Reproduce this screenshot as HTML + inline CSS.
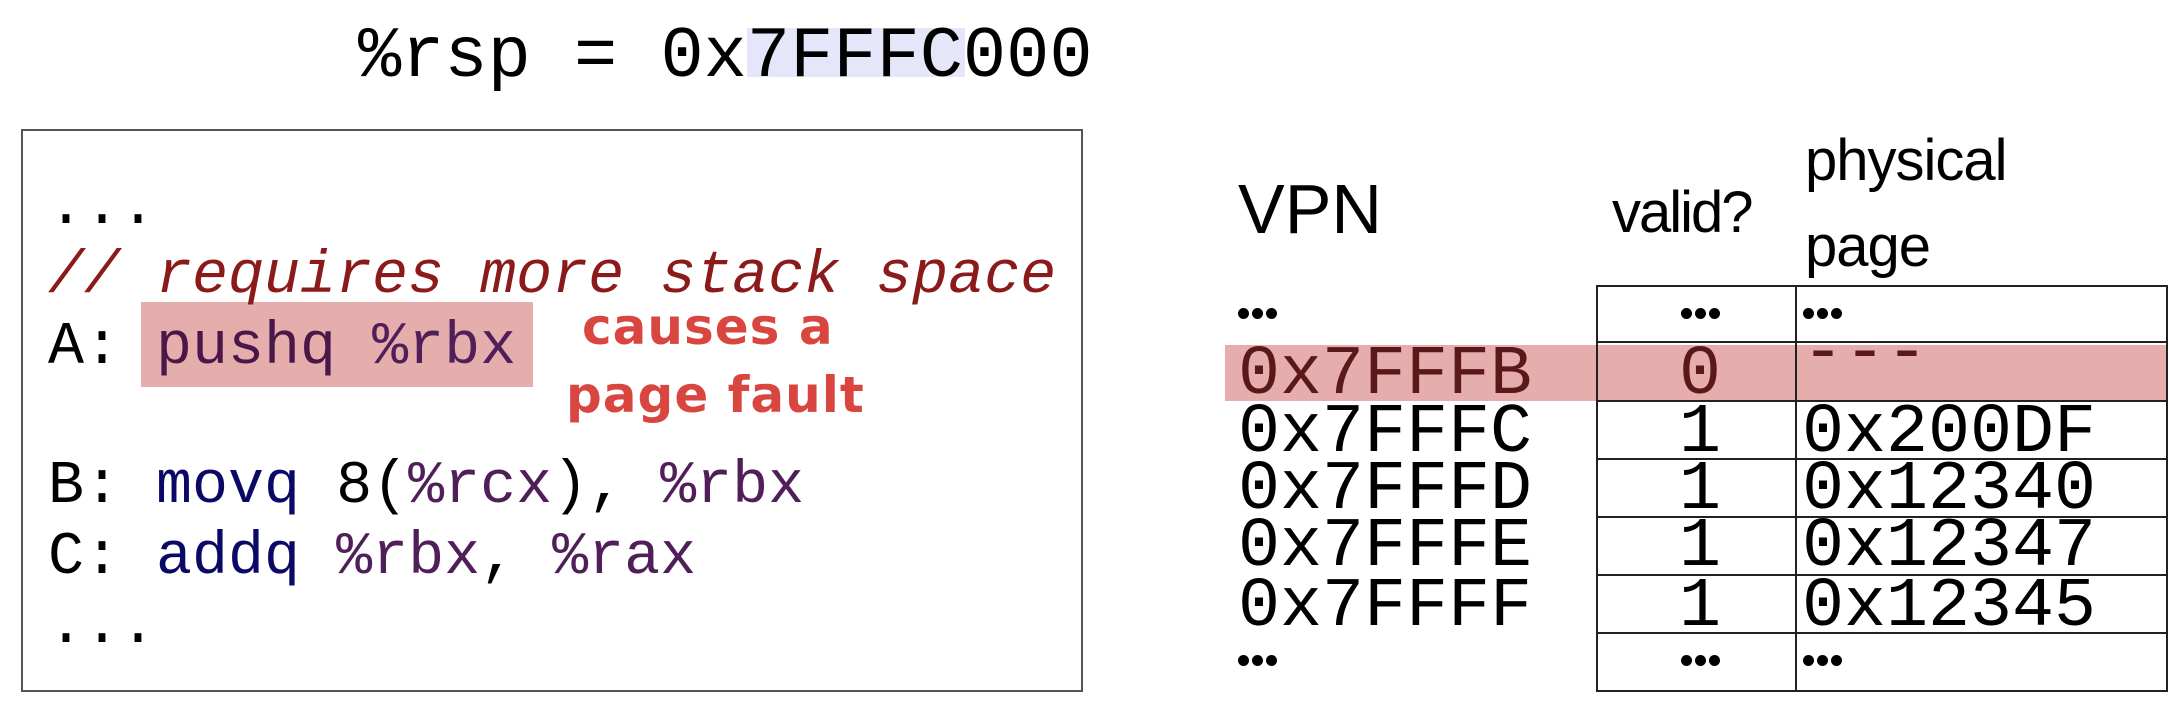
<!DOCTYPE html>
<html><head><meta charset="utf-8"><style>
body{margin:0;width:2168px;height:706px;background:#fff;position:relative;overflow:hidden}
div{position:absolute;white-space:pre}
.m{font-family:"Liberation Mono","DejaVu Sans Mono",monospace}
.s{font-family:"Liberation Sans","DejaVu Sans",sans-serif}
.c{font-size:60px;line-height:60px;left:48px}
.t{font-size:70px;line-height:70px}
.d{width:11px;height:11px;border-radius:50%;background:#000}
.hl{background:#e6adad}
.hline{height:2px;background:#222;left:1597px;width:569px}
.hw{font-family:"DejaVu Sans","Liberation Sans",sans-serif;font-size:50px;line-height:50px;color:#d9453f;font-weight:bold;letter-spacing:1px}
</style></head><body>
<div style="left:747px;top:28px;width:218px;height:49px;background:#e6e6fa"></div>
<div class="m" style="left:358px;top:21px;font-size:72px;line-height:72px">%rsp = 0x7FFFC000</div>

<div style="left:21px;top:129px;width:1058px;height:559px;border:2px solid #555"></div>
<div class="hl" style="left:141px;top:302px;width:392px;height:85px"></div>
<div class="m c" style="top:178px">...</div>
<div class="m c" style="top:247px;color:#8b1a1a;font-style:italic">// requires more stack space</div>
<div class="m c" style="top:318px">A: <span style="color:#4a1848">pushq</span> <span style="color:#501e58">%rbx</span></div>
<div class="m c" style="top:457px">B: <span style="color:#0a0a66">movq</span> 8(<span style="color:#501e58">%rcx</span>), <span style="color:#501e58">%rbx</span></div>
<div class="m c" style="top:528px">C: <span style="color:#0a0a66">addq</span> <span style="color:#501e58">%rbx</span>, <span style="color:#501e58">%rax</span></div>
<div class="m c" style="top:597px">...</div>
<div class="hw" style="left:582px;top:302px">causes a</div>
<div class="hw" style="left:566px;top:370px">page fault</div>

<div class="s" style="left:1238px;top:174px;font-size:70px;line-height:70px">VPN</div>
<div class="s" style="left:1612px;top:184px;font-size:58px;line-height:58px;letter-spacing:-2px">valid?</div>
<div class="s" style="left:1805px;top:132px;font-size:58px;line-height:58px;letter-spacing:-1px">physical</div>
<div class="s" style="left:1805px;top:218px;font-size:58px;line-height:58px;letter-spacing:-1px">page</div>

<div class="hl" style="left:1225px;top:345px;width:943px;height:56px"></div>

<div style="left:1596px;top:285px;width:568px;height:403px;border:2px solid #222"></div>
<div style="left:1795px;top:285px;width:2px;height:405px;background:#222"></div>
<div class="hline" style="top:341px"></div>
<div class="hline" style="top:400px"></div>
<div class="hline" style="top:458px"></div>
<div class="hline" style="top:516px"></div>
<div class="hline" style="top:574px"></div>
<div class="hline" style="top:632px"></div>

<!-- dots -->
<div class="d" style="left:1238px;top:308px"></div><div class="d" style="left:1252px;top:308px"></div><div class="d" style="left:1266px;top:308px"></div>
<div class="d" style="left:1681px;top:308px"></div><div class="d" style="left:1695px;top:308px"></div><div class="d" style="left:1709px;top:308px"></div>
<div class="d" style="left:1803px;top:308px"></div><div class="d" style="left:1817px;top:308px"></div><div class="d" style="left:1831px;top:308px"></div>
<div class="d" style="left:1238px;top:655px"></div><div class="d" style="left:1252px;top:655px"></div><div class="d" style="left:1266px;top:655px"></div>
<div class="d" style="left:1681px;top:655px"></div><div class="d" style="left:1695px;top:655px"></div><div class="d" style="left:1709px;top:655px"></div>
<div class="d" style="left:1803px;top:655px"></div><div class="d" style="left:1817px;top:655px"></div><div class="d" style="left:1831px;top:655px"></div>

<div class="m t" style="left:1238px;top:341px;color:#5a1818">0x7FFFB</div>
<div class="m t" style="left:1679px;top:341px;color:#5a1818">0</div>
<div class="m t" style="left:1802px;top:320px;color:#5a1818">---</div>

<div class="m t" style="left:1238px;top:399px">0x7FFFC</div>
<div class="m t" style="left:1679px;top:399px">1</div>
<div class="m t" style="left:1802px;top:399px">0x200DF</div>

<div class="m t" style="left:1238px;top:456px">0x7FFFD</div>
<div class="m t" style="left:1679px;top:456px">1</div>
<div class="m t" style="left:1802px;top:456px">0x12340</div>

<div class="m t" style="left:1238px;top:513px">0x7FFFE</div>
<div class="m t" style="left:1679px;top:513px">1</div>
<div class="m t" style="left:1802px;top:513px">0x12347</div>

<div class="m t" style="left:1238px;top:573px">0x7FFFF</div>
<div class="m t" style="left:1679px;top:573px">1</div>
<div class="m t" style="left:1802px;top:573px">0x12345</div>
</body></html>
